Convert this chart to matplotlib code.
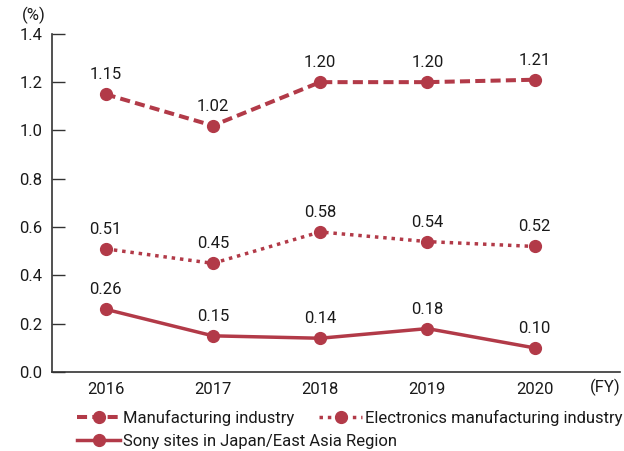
import matplotlib
matplotlib.use('Agg')
import matplotlib.pyplot as plt

plt.rcParams['font.family'] = ['Roboto', 'DejaVu Sans']

years = [2016, 2017, 2018, 2019, 2020]
manuf = [1.15, 1.02, 1.20, 1.20, 1.21]
electronics = [0.51, 0.45, 0.58, 0.54, 0.52]
sony = [0.26, 0.15, 0.14, 0.18, 0.10]

RED = '#b23a48'
TXT = '#1a1a1a'
FS = 12

fig = plt.figure(figsize=(6.24, 4.51), dpi=100)
ax = fig.add_axes([0.0833, 0.175, 0.911, 0.75])

l1, = ax.plot(years, manuf, color=RED, lw=2.9, ls=(0, (2.5, 1.3)),
              marker='o', ms=8.5, label='Manufacturing industry')
l2, = ax.plot(years, electronics, color=RED, lw=2.5, ls=(0, (1, 1.4)),
              marker='o', ms=8.5, label='Electronics manufacturing industry')
l3, = ax.plot(years, sony, color=RED, lw=2.5, ls='-',
              marker='o', ms=8.5, label='Sony sites in Japan/East Asia Region')

for series in (manuf, electronics, sony):
    for x, y in zip(years, series):
        ax.annotate(f'{y:.2f}', (x, y), xytext=(0, 14), textcoords='offset points',
                    ha='center', va='center', fontsize=FS, color=TXT)

ax.set_xlim(2015.5, 2020.8)
ax.set_ylim(0, 1.4)
ax.set_yticks([0.0, 0.2, 0.4, 0.6, 0.8, 1.0, 1.2, 1.4])
ax.set_yticklabels([f'{v:.1f}' for v in ax.get_yticks()])
ax.set_xticks(years)
ax.tick_params(axis='y', direction='in', length=9, width=1, colors='#333333',
               labelcolor=TXT, labelsize=FS, pad=7)
ax.tick_params(axis='x', length=0, labelcolor=TXT, labelsize=FS, pad=7)
for s in ('top', 'right'):
    ax.spines[s].set_visible(False)
for s in ('left', 'bottom'):
    ax.spines[s].set_color('#333333')
    ax.spines[s].set_linewidth(1.2)

fig.text(0.035, 0.965, '(%)', fontsize=FS, color=TXT, ha='left', va='center')
ax.text(2020.66, -0.062, '(FY)', fontsize=FS, color=TXT, ha='center', va='center')

fig.legend([l1, l3], [l1.get_label(), l3.get_label()],
           loc='upper left', bbox_to_anchor=(0.11, 0.11), frameon=False,
           fontsize=FS, handlelength=2.6, handletextpad=0.15,
           labelspacing=0.5, labelcolor=TXT, borderpad=0)
fig.legend([l2], [l2.get_label()], loc='upper left', bbox_to_anchor=(0.498, 0.11),
           frameon=False, fontsize=FS, handlelength=2.6, handletextpad=0.15,
           labelcolor=TXT, borderpad=0)

fig.savefig('out.png', dpi=100)
